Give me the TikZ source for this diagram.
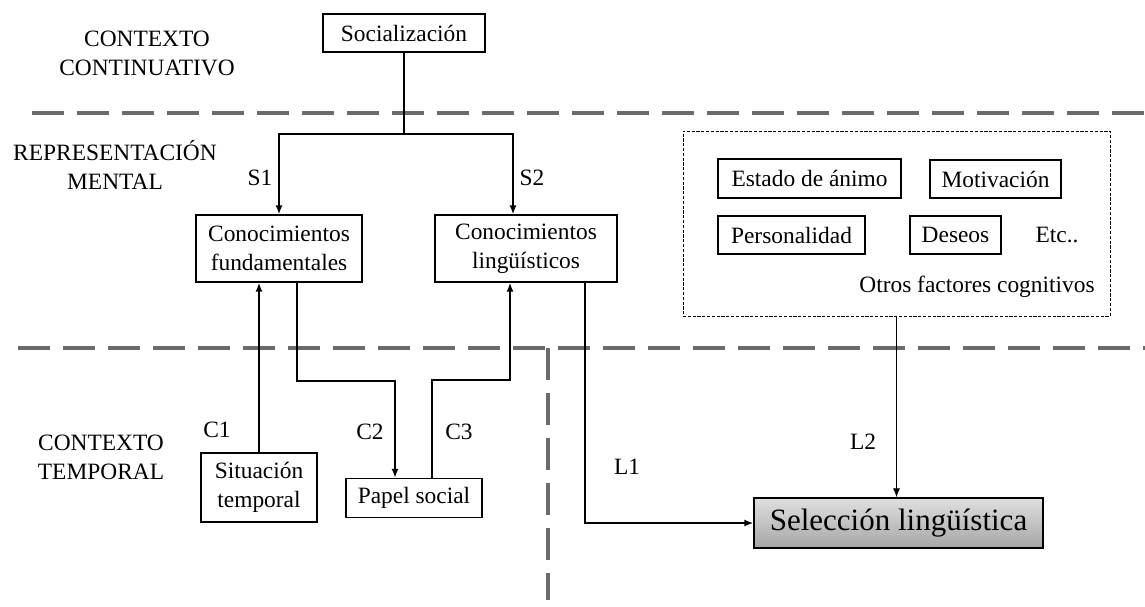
\documentclass[tikz,border=0pt]{standalone}
\usepackage{fontspec}
\setmainfont{Liberation Serif}
\usetikzlibrary{arrows.meta}
\tikzset{
  base/.style={font=\fontsize{11.7}{14.5}\selectfont},
  box/.style={base, draw, line width=0.7pt, inner sep=0pt, align=center},
  lbl/.style={base, inner sep=0pt, align=center},
  conn/.style={line width=1.2pt, -{Latex[length=4.5pt,width=3.6pt]}},
  plain/.style={line width=1.2pt},
  thinconn/.style={line width=0.6pt, -{Latex[length=4.5pt,width=3.6pt]}},
  sep/.style={draw=black!58, line width=2.3pt, dash pattern=on 16pt off 6.5pt},
  group/.style={draw, line width=0.5pt, dash pattern=on 1.6pt off 0.8pt, inner sep=0pt},
}
\begin{document}
\begin{tikzpicture}[x=0.5pt,y=-0.5pt]
\useasboundingbox (0,0) rectangle (1145,606);
% separators
\coordinate (s1a) at (32,113); \coordinate (s1b) at (1145,113);
\coordinate (s2a) at (18,348); \coordinate (s2b) at (1145,348);
\coordinate (s3a) at (548,348); \coordinate (s3b) at (548,600);
\draw[sep] (s1a) -- (s1b);
\draw[sep] (s2a) -- (s2b);
\draw[sep] (s3a) -- (s3b);
% region labels
\node[lbl] (lc1) at (147,53.5) {CONTEXTO\\CONTINUATIVO};
\node[lbl] (lc2) at (115,165) {REPRESENTACIÓN\\MENTAL};
\node[lbl] (lc3) at (101,457) {CONTEXTO\\TEMPORAL};
% nodes
\node[box, minimum width=81pt, minimum height=19pt] (soc) at (404,33) {Socialización};
\node[box, minimum width=83pt, minimum height=33.5pt] (cf) at (279,248.5) {Conocimientos\\fundamentales};
\node[box, minimum width=91pt, minimum height=33.5pt] (cl) at (526,248.5) {Conocimientos\\lingüísticos};
\node[box, minimum width=58pt, minimum height=34.5pt] (sit) at (259,487.5) {Situación\\temporal};
\node[box, minimum width=68pt, minimum height=19.5pt] (pap) at (414,498) {Papel social};
\node[draw, line width=0.7pt, inner sep=0pt, minimum width=144.5pt, minimum height=25pt,
      top color=gray!25, bottom color=gray!70, font=\fontsize{15.5}{18}\selectfont] (sel) at (898.5,523) {Selección lingüística};
% other factors
\node[group, minimum width=213.5pt, minimum height=92.5pt] (oth) at (896.5,223.5) {};
\node[box, minimum width=91.5pt, minimum height=19.5pt] (est) at (809.5,178.5) {Estado de ánimo};
\node[box, minimum width=65.5pt, minimum height=19pt] (mot) at (995.5,179) {Motivación};
\node[box, minimum width=73.5pt, minimum height=19pt] (per) at (791.5,235) {Personalidad};
\node[box, minimum width=45.5pt, minimum height=19pt] (des) at (955.5,235) {Deseos};
\node[lbl] (etc) at (1057,235) {Etc..};
\node[lbl] (ofc) at (977,287) {Otros factores cognitivos};
% connector labels
\node[lbl] (ls1) at (260,178) {S1};
\node[lbl] (ls2) at (532,178) {S2};
\node[lbl] (lcc1) at (217,430) {C1};
\node[lbl] (lcc2) at (370,432) {C2};
\node[lbl] (lcc3) at (459,432) {C3};
\node[lbl] (ll1) at (627,467) {L1};
\node[lbl] (ll2) at (863,442) {L2};
% connectors
\draw[plain] (soc.south) -- ++(0,81) coordinate (j);
\draw[conn] (j) -| (cf.north);
\draw[conn] (j) -| ([xshift=-6.5pt]cl.north);
\draw[conn] (sit.north) -- (sit.north |- cf.south);
\draw[conn] ([xshift=9pt]cf.south) -- ++(0,98) -| ([xshift=-9.5pt]pap.north);
\draw[conn] ([xshift=9pt]pap.north) -- ++(0,-98) -| ([xshift=-8pt]cl.south);
\draw[conn] ([xshift=29.5pt]cl.south) |- (sel.west);
\draw[thinconn] (oth.south) -- (oth.south |- sel.north);
\end{tikzpicture}
\end{document}
